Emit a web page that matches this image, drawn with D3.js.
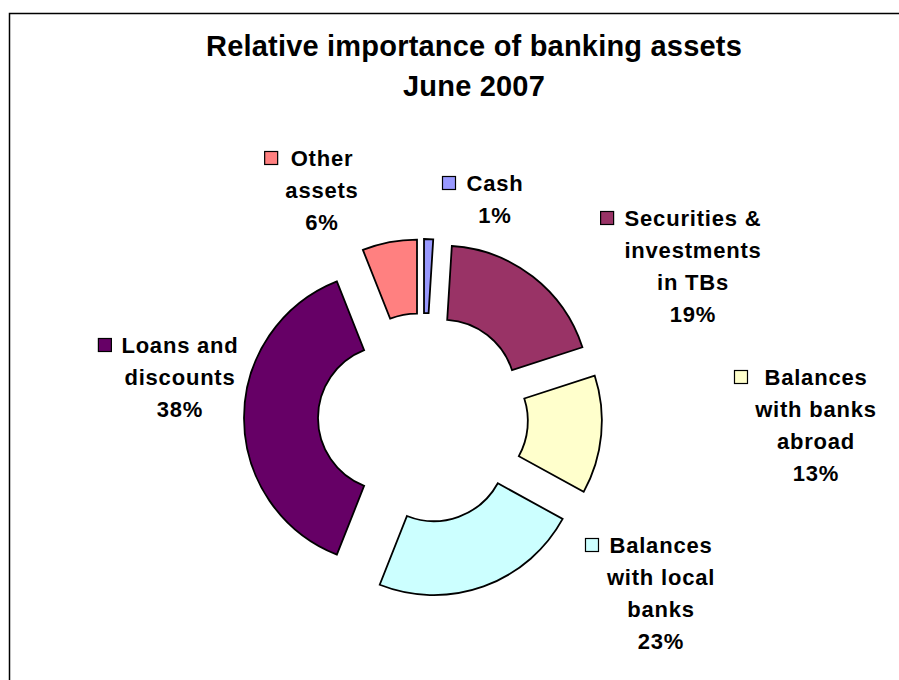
<!DOCTYPE html>
<html>
<head>
<meta charset="utf-8">
<script src="https://cdn.jsdelivr.net/npm/d3@7"></script>
<style>
  html, body { margin: 0; padding: 0; background: #fff; }
  svg { display: block; }
  text { font-family: "Liberation Sans", Arial, sans-serif; font-weight: bold; fill: #000; }
</style>
</head>
<body>
<svg id="chart" width="899" height="680"></svg>
<script>
// Banking asset composition, share of total (%)
const categories = [
  "Cash",
  "Securities & investments in TBs",
  "Balances with banks abroad",
  "Balances with local banks",
  "Loans and discounts",
  "Other assets"
];
const shares = [1, 19, 13, 23, 38, 6];
const colors = ["#9999FF", "#993366", "#FFFFCC", "#CCFFFF", "#660066", "#FF8080"];

// Label text broken into lines as printed beside each segment
const labelLines = [
  ["Cash"],
  ["Securities &", "investments", "in TBs"],
  ["Balances", "with banks", "abroad"],
  ["Balances", "with local", "banks"],
  ["Loans and", "discounts"],
  ["Other", "assets"]
];
const titleLines = ["Relative importance of banking assets", "June 2007"];

// Layout
const width = 899, height = 680;
const center = { x: 423, y: 418 };
const outerR = 147, innerR = 73, explode = 32;
const lineGap = 32;
// label block anchor: centre x of the text and baseline of its first line
const labelAnchor = [
  { x: 495, y: 191, keyGap: 11 },
  { x: 693, y: 226, keyGap: 11 },
  { x: 816, y: 385, keyGap: 17 },
  { x: 661, y: 553, keyGap: 11 },
  { x: 180, y: 353, keyGap: 10 },
  { x: 322, y: 166, keyGap: 13 }
];

const svg = d3.select("#chart");

// chart area frame (runs off the right and bottom edges)
svg.append("rect")
  .attr("x", 9.5).attr("y", 13.5)
  .attr("width", 1000).attr("height", 1000)
  .attr("fill", "#fff")
  .attr("stroke", "#000")
  .attr("stroke-width", 1.5);

// title
svg.append("g").selectAll("text")
  .data(titleLines)
  .join("text")
  .attr("x", 474)
  .attr("y", (d, i) => 56 + i * 40)
  .attr("text-anchor", "middle")
  .attr("font-size", 29)
  .attr("letter-spacing", 0.2)
  .text(d => d);

const data = categories.map((c, i) => ({ name: c, value: shares[i], color: colors[i], lines: labelLines[i] }));

const pie = d3.pie().value(d => d.value).sort(null).startAngle(0).endAngle(2 * Math.PI);
const arc = d3.arc().innerRadius(innerR).outerRadius(outerR);
const arcs = pie(data);

const ring = svg.append("g").attr("transform", `translate(${center.x},${center.y})`);
ring.selectAll("path")
  .data(arcs)
  .join("path")
  .attr("d", arc)
  .attr("fill", d => d.data.color)
  .attr("stroke", "#000")
  .attr("stroke-width", 1.8)
  .attr("stroke-linejoin", "miter")
  .attr("transform", d => {
    const mid = (d.startAngle + d.endAngle) / 2;
    return `translate(${explode * Math.sin(mid)},${-explode * Math.cos(mid)})`;
  });

// data labels: legend key, category name and percentage
const fmt = d3.format(".0f");
const labels = svg.append("g").selectAll("g")
  .data(arcs)
  .join("g");

labels.each(function(d, i) {
  const g = d3.select(this);
  const a = labelAnchor[i];
  const lines = d.data.lines.concat([fmt(d.data.value) + "%"]);
  const texts = g.selectAll("text")
    .data(lines)
    .join("text")
    .attr("x", a.x)
    .attr("y", (t, j) => a.y + j * lineGap)
    .attr("text-anchor", "middle")
    .attr("font-size", 22)
    .attr("letter-spacing", 0.8)
    .text(t => t);
  const firstW = texts.node().getComputedTextLength();
  const key = 13;
  g.append("rect")
    .attr("x", a.x - firstW / 2 - a.keyGap - key)
    .attr("y", a.y - 8 - key / 2)
    .attr("width", key).attr("height", key)
    .attr("fill", d.data.color)
    .attr("stroke", "#000")
    .attr("stroke-width", 1.2);
});
</script>
</body>
</html>
